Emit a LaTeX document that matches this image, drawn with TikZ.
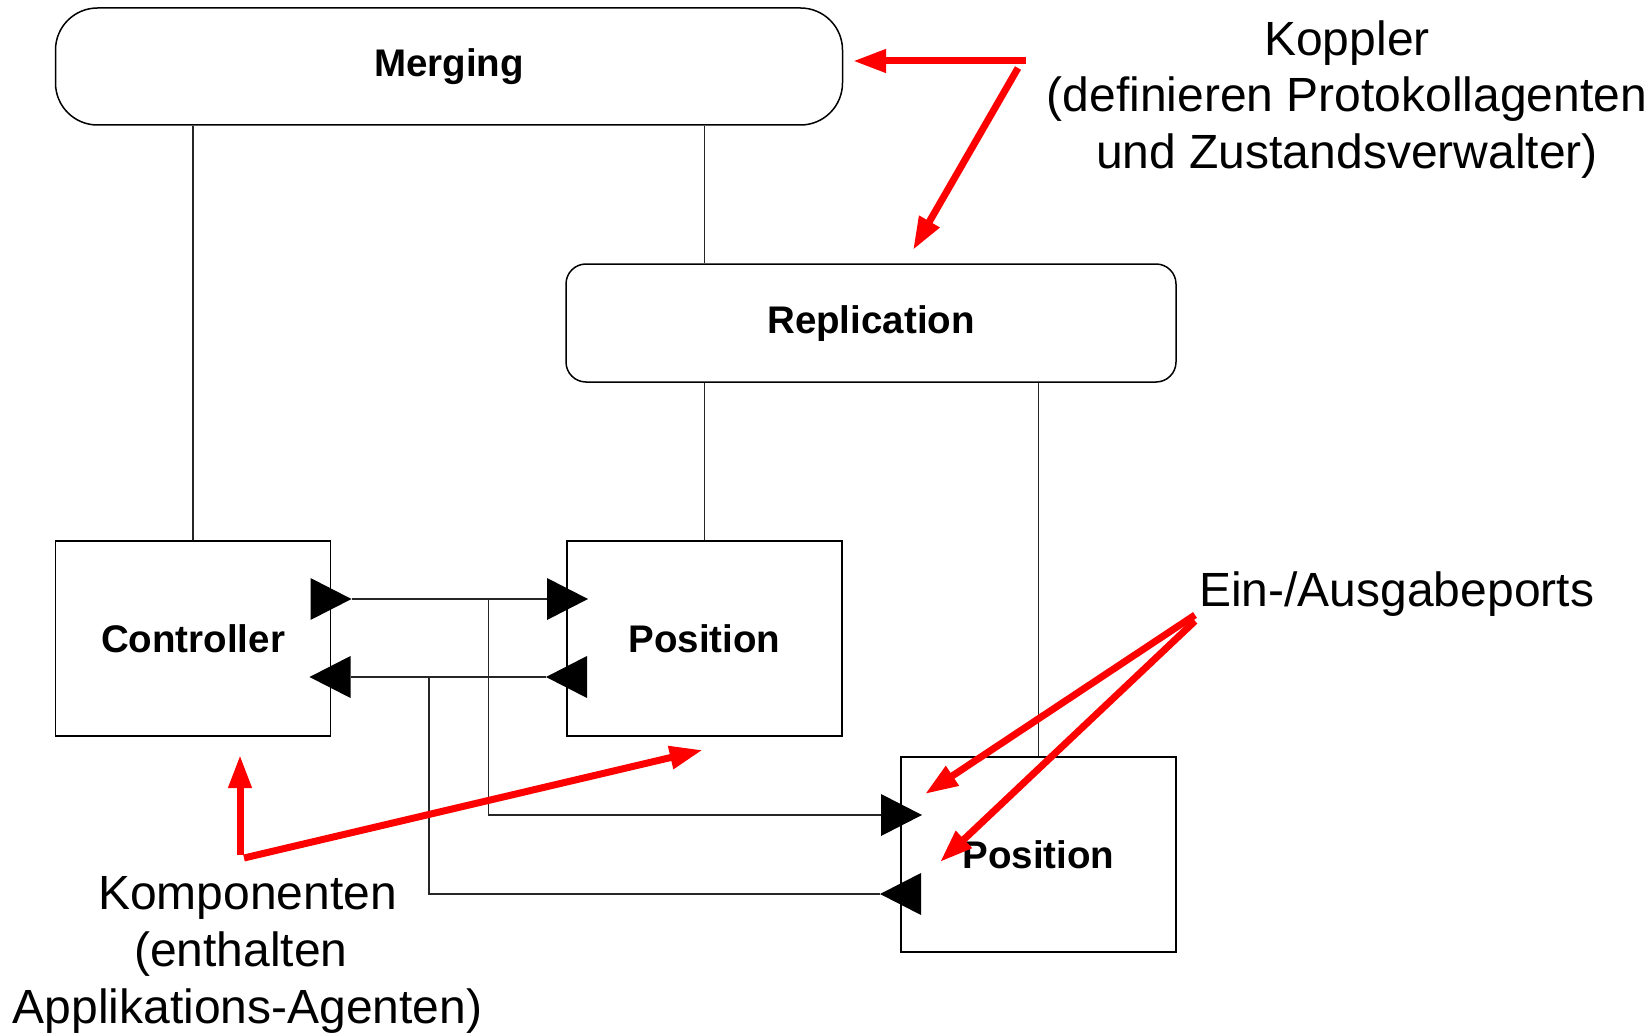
\documentclass[tikz,border=0pt]{standalone}
\usepackage{fontspec}
\setmainfont{Liberation Sans}
\usetikzlibrary{arrows.meta}
\begin{document}
\begin{tikzpicture}[x=1pt,y=-1pt,
  box/.style={draw=black, line width=1.5pt, fill=white, inner sep=0pt,
    font=\fontsize{38.5}{46}\selectfont\bfseries, text height=27.6pt, text depth=0pt},
  coupler/.style={box, rounded corners=#1, text depth=6.6pt},
  wire/.style={draw=black!85, line width=1.3pt},
  note/.style={inner sep=0pt, align=center, font=\fontsize{48}{56.8}\selectfont},
  pointer/.style={draw=red, line width=7pt, -{Triangle[length=33pt,width=22pt]}},
  portR/.pic={\fill (-20,-21) -- (21,0) -- (-20,21) -- cycle;},
  portL/.pic={\fill (20,-21) -- (-21,0) -- (20,21) -- cycle;},
]
\useasboundingbox (0,0) rectangle (1644,1035);

% coupler and component boxes
\node[coupler=42pt, minimum width=787pt, minimum height=117pt] (merging) at (449,66.5) {Merging};
\node[coupler=20pt, minimum width=610pt, minimum height=118pt] (replication) at (871,323) {Replication};
\node[box, minimum width=275pt, minimum height=195pt] (ctrl) at (193,638.5) {Controller};
\node[box, minimum width=275pt, minimum height=195pt] (pos1) at (704.5,638.5) {Position};
\node[box, minimum width=275pt, minimum height=195pt] (pos2) at (1038.5,854.5) {Position};

% coupler links
\draw[wire] (ctrl.north |- merging.south) -- (ctrl.north);
\draw[wire] (pos1.north |- merging.south) -- (pos1.north |- replication.north);
\draw[wire] (pos1.north |- replication.south) -- (pos1.north);
\draw[wire] (pos2.north |- replication.south) -- (pos2.north);

% ports on the box edges
\coordinate (ctrlOut) at (330.5,599);
\coordinate (ctrlIn)  at (330.5,677);
\coordinate (pos1In)  at (567,599);
\coordinate (pos1Out) at (567,677);
\coordinate (pos2In)  at (901,815);
\coordinate (pos2Out) at (901,894);
\pic at (ctrlOut) {portR};
\pic at (ctrlIn)  {portL};
\pic at (pos1In)  {portR};
\pic at (pos1Out) {portL};
\pic at (pos2In)  {portR};
\pic at (pos2Out) {portL};

% port wiring
\coordinate (splitA) at (488.7,599);
\coordinate (splitB) at (429,677);
\draw[wire] ([xshift=21pt]ctrlOut) -- ([xshift=-20pt]pos1In);
\draw[wire] ([xshift=-21pt]pos1Out) -- ([xshift=20pt]ctrlIn);
\draw[wire] (splitA) |- ([xshift=-20pt]pos2In);
\draw[wire] (splitB) |- ([xshift=-21pt]pos2Out);

% annotations
\node[note, anchor=north] (koppler) at (1347,20.1)
  {Koppler\\(definieren Protokollagenten\\und Zustandsverwalter)};
\node[note, anchor=north] (komp) at (247.5,876.6)
  {Komponenten\\(enthalten\rule{13.3pt}{0pt}\\Applikations-Agenten)};
\node[note, anchor=base west] (ports) at (1199,606) {Ein-/Ausgabeports};

% annotation pointers
\coordinate (kopTailA) at (1026,61);
\coordinate (kopTailB) at (1018,68);
\coordinate (mergeTip) at (853,61);
\coordinate (replTip)  at (913,250);
\coordinate (kompTailA) at (240,855);
\coordinate (kompTailB) at (244,858);
\coordinate (ctrlTip)  at (240,755);
\coordinate (pos1Tip)  at (702.7,750);
\coordinate (portTailA) at (1195,615);
\coordinate (portTailB) at (1195,621);
\coordinate (inTip)  at (925,794);
\coordinate (outTip) at (940,862);
\draw[pointer] (kopTailA) -- (mergeTip);
\draw[pointer] (kopTailB) -- (replTip);
\draw[pointer] (kompTailA) -- (ctrlTip);
\draw[pointer] (kompTailB) -- (pos1Tip);
\draw[pointer] (portTailA) -- (inTip);
\draw[pointer] (portTailB) -- (outTip);
\end{tikzpicture}
\end{document}
